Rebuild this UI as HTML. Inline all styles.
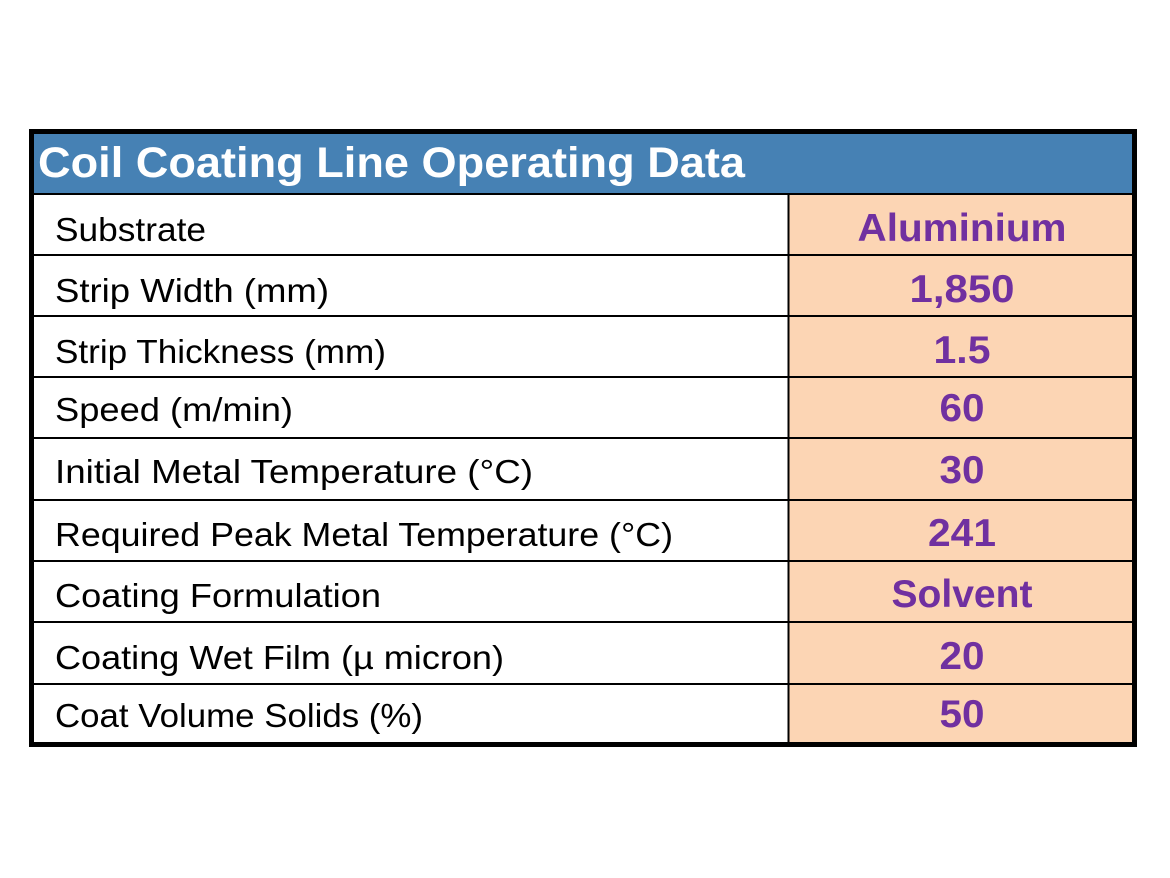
<!DOCTYPE html>
<html><head><style>body{margin:0;background:#fff;}svg{display:block}</style></head>
<body>
<svg width="1170" height="878" xmlns="http://www.w3.org/2000/svg" font-family="Liberation Sans, sans-serif">
<rect x="0" y="0" width="1170" height="878" fill="#fff"/>
<rect x="32" y="132" width="1102" height="62" fill="#4681B4"/>
<rect x="789" y="194" width="345" height="550" fill="#FCD5B4"/>
<g stroke="#000" stroke-width="2">
<line x1="32" y1="194" x2="1134" y2="194"/>
<line x1="32" y1="255" x2="1134" y2="255"/>
<line x1="32" y1="316" x2="1134" y2="316"/>
<line x1="32" y1="377" x2="1134" y2="377"/>
<line x1="32" y1="438" x2="1134" y2="438"/>
<line x1="32" y1="500" x2="1134" y2="500"/>
<line x1="32" y1="561" x2="1134" y2="561"/>
<line x1="32" y1="622" x2="1134" y2="622"/>
<line x1="32" y1="684" x2="1134" y2="684"/>
<line x1="788.5" y1="194" x2="788.5" y2="744"/>
</g>
<rect x="31.5" y="131.5" width="1103" height="613" fill="none" stroke="#000" stroke-width="5"/>
<text x="38" y="177" font-size="43" font-weight="bold" fill="#fff" textLength="707" lengthAdjust="spacingAndGlyphs">Coil Coating Line Operating Data</text>
<g font-size="33" fill="#000">
<text x="55" y="241" textLength="151" lengthAdjust="spacingAndGlyphs">Substrate</text>
<text x="55" y="302" textLength="274" lengthAdjust="spacingAndGlyphs">Strip Width (mm)</text>
<text x="55" y="363" textLength="331" lengthAdjust="spacingAndGlyphs">Strip Thickness (mm)</text>
<text x="55" y="421" textLength="238" lengthAdjust="spacingAndGlyphs">Speed (m/min)</text>
<text x="55" y="483" textLength="478" lengthAdjust="spacingAndGlyphs">Initial Metal Temperature (°C)</text>
<text x="55" y="546" textLength="618" lengthAdjust="spacingAndGlyphs">Required Peak Metal Temperature (°C)</text>
<text x="55" y="607" textLength="326" lengthAdjust="spacingAndGlyphs">Coating Formulation</text>
<text x="55" y="669" textLength="449" lengthAdjust="spacingAndGlyphs">Coating Wet Film (µ micron)</text>
<text x="55" y="727" textLength="368" lengthAdjust="spacingAndGlyphs">Coat Volume Solids (%)</text>
</g>
<g font-size="39" font-weight="bold" fill="#7030A0" text-anchor="middle">
<text x="962" y="241" textLength="209" lengthAdjust="spacingAndGlyphs">Aluminium</text>
<text x="962" y="302" textLength="105" lengthAdjust="spacingAndGlyphs">1,850</text>
<text x="962" y="363" textLength="57" lengthAdjust="spacingAndGlyphs">1.5</text>
<text x="962" y="421" textLength="45" lengthAdjust="spacingAndGlyphs">60</text>
<text x="962" y="483" textLength="45" lengthAdjust="spacingAndGlyphs">30</text>
<text x="962" y="546" textLength="68" lengthAdjust="spacingAndGlyphs">241</text>
<text x="962" y="607" textLength="141" lengthAdjust="spacingAndGlyphs">Solvent</text>
<text x="962" y="669" textLength="45" lengthAdjust="spacingAndGlyphs">20</text>
<text x="962" y="727" textLength="45" lengthAdjust="spacingAndGlyphs">50</text>
</g>
</svg>
</body></html>
